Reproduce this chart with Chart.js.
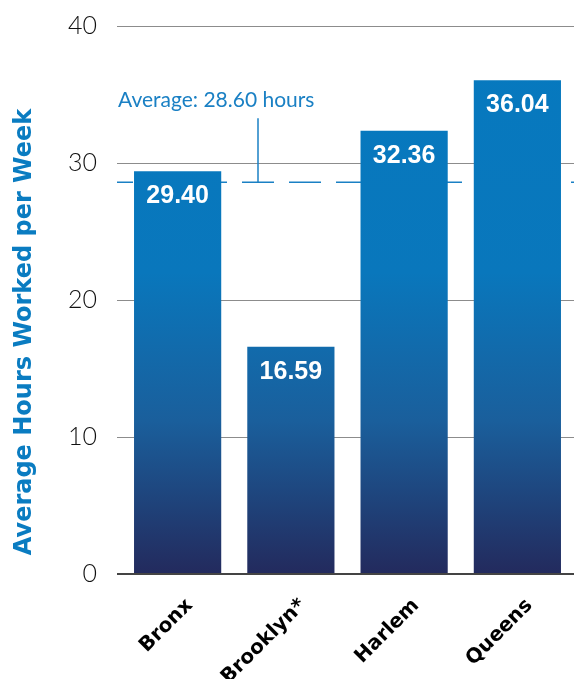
<!DOCTYPE html>
<html>
<head>
<meta charset="utf-8">
<script src="https://cdn.jsdelivr.net/npm/chart.js@4.4.1/dist/chart.umd.min.js"></script>
<style>
  html, body { margin: 0; padding: 0; background: #fff; }
  #wrap { width: 574px; height: 679px; position: relative; }
</style>
</head>
<body>
<div id="wrap"><canvas id="hours"></canvas></div>
<script>
  // Average hours worked per week, by site
  var SITES = ["Bronx", "Brooklyn*", "Harlem", "Queens"];
  var HOURS = [29.40, 16.59, 32.36, 36.04];
  var AVERAGE = 28.60;
  var AVG_LABEL = "Average: 28.60 hours";
  var Y_TITLE = "Average Hours Worked per Week";

  var BLUE = "#0a7cc1", NAVY = "#232a5d", GRID = "#8c8c8c";

  function barFill(ctx) {
    var area = ctx.chart.chartArea;
    if (!area) return BLUE;
    var g = ctx.chart.ctx.createLinearGradient(0, area.top, 0, area.bottom);
    g.addColorStop(0, "#0679bf");
    g.addColorStop(0.45, "#0977bc");
    g.addColorStop(0.72, "#1a5f9c");
    g.addColorStop(1, NAVY);
    return g;
  }

  /* dashed average line, drawn under the bars */
  var averageLine = {
    id: "averageLine",
    beforeDatasetsDraw: function (chart) {
      var c = chart.ctx, y = chart.scales.y.getPixelForValue(AVERAGE);
      var a = chart.chartArea;
      c.save();
      c.strokeStyle = "#1a80c4";
      c.lineWidth = 1.5;
      c.setLineDash([32, 15]);
      c.lineDashOffset = 16;
      c.beginPath();
      c.moveTo(a.left - 4, y);
      c.lineTo(a.right, y);
      c.stroke();
      c.setLineDash([]);
      c.beginPath();
      c.moveTo(258, y);
      c.lineTo(258, y - 64);
      c.stroke();
      c.fillStyle = "#1a80c4";
      c.font = "21px Lato, 'DejaVu Sans', sans-serif";
      c.textBaseline = "alphabetic";
      c.fillText(AVG_LABEL, 118, y - 75);
      c.restore();
    }
  };

  /* white value labels inside the top of each bar, plus rotated y title */
  var valueLabels = {
    id: "valueLabels",
    afterDatasetsDraw: function (chart) {
      var c = chart.ctx;
      c.save();
      c.fillStyle = "#fff";
      c.font = "bold 25px 'Liberation Sans', Arial, sans-serif";
      c.textAlign = "center";
      c.textBaseline = "alphabetic";
      chart.getDatasetMeta(0).data.forEach(function (bar, i) {
        c.fillText(HOURS[i].toFixed(2), bar.x, bar.y + 32);
      });
      c.translate(25, 332);
      c.rotate(-Math.PI / 2);
      c.fillStyle = BLUE;
      c.font = "bold 24px 'DejaVu Sans', sans-serif";
      c.textBaseline = "middle";
      c.fillText(Y_TITLE, 0, 0);
      c.restore();
    }
  };

  new Chart(document.getElementById("hours"), {
    type: "bar",
    data: {
      labels: SITES,
      datasets: [{
        data: HOURS,
        backgroundColor: barFill,
        borderWidth: 0,
        barPercentage: 0.77,
        categoryPercentage: 1
      }]
    },
    options: {
      responsive: true,
      maintainAspectRatio: false,
      animation: false,
      layout: { padding: { top: 26, right: 0, left: 0, bottom: 0 } },
      plugins: { legend: { display: false }, tooltip: { enabled: false } },
      scales: {
        x: {
          grid: { display: false, drawTicks: false },
          border: { display: false },
          afterFit: function (s) { s.height = 105; s.paddingLeft = 0; s.paddingRight = 0; },
          ticks: {
            color: "#000",
            font: { family: "'DejaVu Sans', sans-serif", weight: "bold", size: 20 },
            maxRotation: 45, minRotation: 45,
            padding: 20,
            labelOffset: 12
          }
        },
        y: {
          min: 0, max: 40,
          border: { display: false },
          afterFit: function (s) { s.width = 121; s.paddingTop = 0; s.paddingBottom = 0; },
          grid: {
            color: function (ctx) { return ctx.tick && ctx.tick.value === 0 ? "#444" : GRID; },
            lineWidth: function (ctx) { return ctx.tick && ctx.tick.value === 0 ? 2 : 1; },
            tickLength: 4
          },
          ticks: {
            stepSize: 10,
            color: "#111",
            padding: 20,
            font: { family: "Lato, 'DejaVu Sans', sans-serif", weight: "300", size: 25 }
          }
        }
      }
    },
    plugins: [averageLine, valueLabels]
  });
</script>
</body>
</html>
